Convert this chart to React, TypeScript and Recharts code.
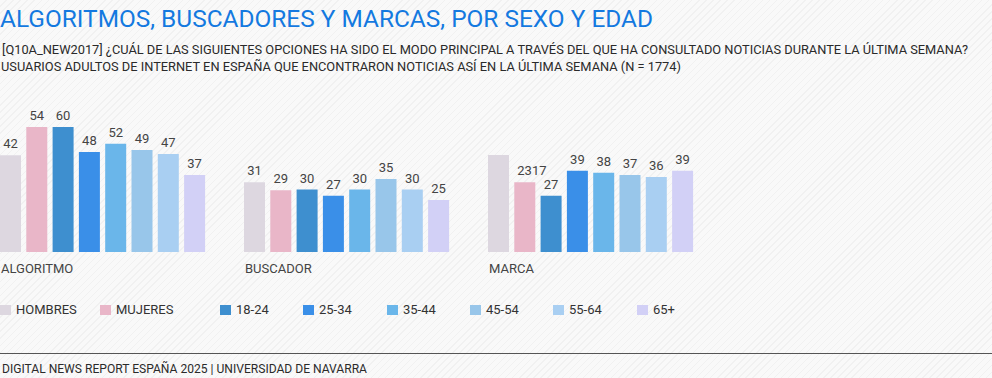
import { BarChart, Bar, XAxis, YAxis, LabelList } from 'recharts'

const categories = ['ALGORITMO', 'BUSCADOR', 'MARCA']
const hombres = [46.4, 33.5, 46.6]
const mujeres = [60, 29.6, 33.5]
const hombresLabels = ['42', '31', '']
const mujeresLabels = ['54', '29', '2317']
const edad1824 = [60, 30, 27]
const edad2534 = [48, 27, 39]
const edad3544 = [52, 30, 38]
const edad4554 = [49, 35, 37]
const edad5564 = [47, 30, 36]
const edad65 = [37, 25, 39]

const title = 'ALGORITMOS, BUSCADORES Y MARCAS, POR SEXO Y EDAD'
const subtitle1 = '[Q10A_NEW2017] ¿CUÁL DE LAS SIGUIENTES OPCIONES HA SIDO EL MODO PRINCIPAL A TRAVÉS DEL QUE HA CONSULTADO NOTICIAS DURANTE LA ÚLTIMA SEMANA?'
const subtitle2 = 'USUARIOS ADULTOS DE INTERNET EN ESPAÑA QUE ENCONTRARON NOTICIAS ASÍ EN LA ÚLTIMA SEMANA (N = 1774)'
const footer = 'DIGITAL NEWS REPORT ESPAÑA 2025 | UNIVERSIDAD DE NAVARRA'

const series = [
  { key: 'hombres', name: 'HOMBRES', color: '#ddd7e0', label: 'hombresLabel' },
  { key: 'mujeres', name: 'MUJERES', color: '#e9b6c8', label: 'mujeresLabel' },
  { key: 'e1824', name: '18-24', color: '#3e8fcf', label: 'e1824' },
  { key: 'e2534', name: '25-34', color: '#3a8fe8', label: 'e2534' },
  { key: 'e3544', name: '35-44', color: '#6ab6ea', label: 'e3544' },
  { key: 'e4554', name: '45-54', color: '#98c6ea', label: 'e4554' },
  { key: 'e5564', name: '55-64', color: '#a9cff2', label: 'e5564' },
  { key: 'e65', name: '65+', color: '#d2d0f6', label: 'e65' },
]

const data = categories.map((name, i) => ({
  name,
  hombres: hombres[i],
  mujeres: mujeres[i],
  hombresLabel: hombresLabels[i],
  mujeresLabel: mujeresLabels[i],
  e1824: edad1824[i],
  e2534: edad2534[i],
  e3544: edad3544[i],
  e4554: edad4554[i],
  e5564: edad5564[i],
  e65: edad65[i],
}))

const FONT = 'Roboto, "Open Sans", sans-serif'
const legendWidths = [100, 120, 83, 84, 83, 83, 84, 0]

function renderLabel(props: any) {
  const { x, y, width, value } = props
  if (value === '' || value === undefined || value === null) return null
  const s = String(value)
  const long = s.length > 2
  const bx = Number(x)
  return (
    <text
      x={long ? bx + 3 : bx + Number(width) / 2}
      y={Number(y) - 7}
      textAnchor={long ? 'start' : 'middle'}
      fontSize={13}
      fontFamily={FONT}
      fill="#444"
    >
      {s}
    </text>
  )
}

function CategoryTick(props: any) {
  const { x, y, payload } = props
  return (
    <text x={x - 102} y={y + 13} fontSize={13} fontFamily={FONT} fill="#444">
      {payload.value}
    </text>
  )
}

export default function App() {
  let legendX = 0
  return (
    <div style={{
      position: 'absolute', left: 0, top: 0, width: 992, height: 378, overflow: 'hidden',
      background: 'repeating-linear-gradient(135deg, #f9f9f9 0px, #f9f9f9 4px, #f1f1f1 4px, #f1f1f1 5px)',
      fontFamily: FONT,
    }}>
      <svg width={992} height={378} style={{ position: 'absolute', left: 0, top: 0 }}>
        <text x={0} y={27} fontSize={23.5} fill="#1479e0" fontFamily={FONT} textLength={653} lengthAdjust="spacingAndGlyphs">
          {title}
        </text>
        <text x={2} y={54} fontSize={12.5} fill="#2a2a2a" fontFamily={FONT} textLength={966} lengthAdjust="spacingAndGlyphs">
          {subtitle1}
        </text>
        <text x={1} y={71} fontSize={12.5} fill="#2a2a2a" fontFamily={FONT} textLength={680} lengthAdjust="spacingAndGlyphs">
          {subtitle2}
        </text>
        <line x1={0} x2={992} y1={353.5} y2={353.5} stroke="#555" strokeWidth={1} />
        <text x={2} y={373} fontSize={13} fill="#2a2a2a" fontFamily={FONT} textLength={365} lengthAdjust="spacingAndGlyphs">
          {footer}
        </text>
      </svg>

      <div style={{ position: 'absolute', left: -19, top: 100 }}>
        <BarChart
          width={732}
          height={190}
          data={data}
          margin={{ top: 27, right: 0, bottom: 0, left: 0 }}
          barSize={21}
          barGap={5.3}
        >
          <XAxis dataKey="name" height={38} axisLine={false} tickLine={false} tick={<CategoryTick />} interval={0} />
          <YAxis hide domain={[0, 60]} />
          {series.map(s => (
            <Bar key={s.key} dataKey={s.key} name={s.name} fill={s.color} isAnimationActive={false}>
              <LabelList dataKey={s.label} content={renderLabel} />
            </Bar>
          ))}
        </BarChart>
      </div>

      {series.map((s, i) => {
        const left = legendX
        legendX += legendWidths[i]
        return (
          <div key={s.key} style={{
            position: 'absolute', left, top: 303, height: 14,
            display: 'flex', alignItems: 'center', whiteSpace: 'nowrap',
          }}>
            <span style={{ display: 'inline-block', width: 11, height: 10, background: s.color, marginRight: 5 }} />
            <span style={{ fontSize: 13, color: '#333', lineHeight: '14px' }}>{s.name}</span>
          </div>
        )
      })}
    </div>
  )
}
